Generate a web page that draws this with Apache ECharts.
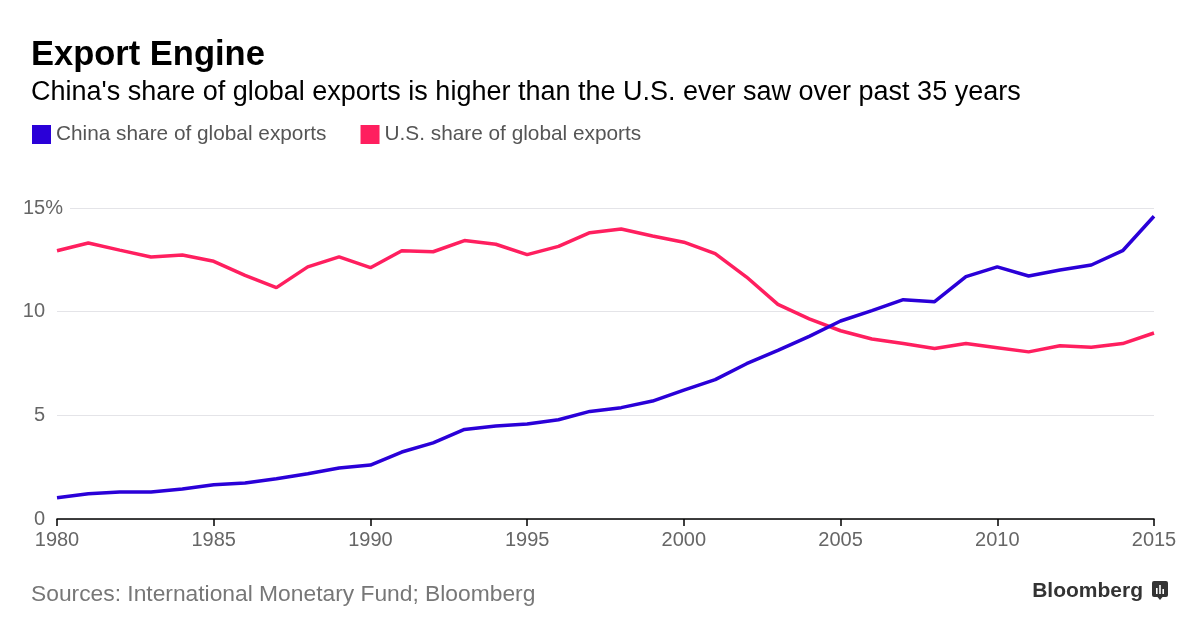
<!DOCTYPE html>
<html>
<head>
<meta charset="utf-8">
<script src="https://cdn.jsdelivr.net/npm/echarts@6/dist/echarts.min.js"></script>
<style>
html,body{margin:0;padding:0;background:#fff;}
#chart{width:1200px;height:635px;}
</style>
</head>
<body>
<div id="chart"></div>
<script>
const years = [1980,1981,1982,1983,1984,1985,1986,1987,1988,1989,1990,1991,1992,1993,1994,1995,1996,1997,1998,1999,2000,2001,2002,2003,2004,2005,2006,2007,2008,2009,2010,2011,2012,2013,2014,2015];
const chinaShare = [1.03,1.22,1.30,1.30,1.45,1.65,1.74,1.94,2.18,2.46,2.60,3.23,3.67,4.32,4.49,4.58,4.79,5.19,5.37,5.69,6.22,6.72,7.49,8.13,8.81,9.55,10.05,10.58,10.48,11.69,12.16,11.72,12.01,12.25,12.94,14.60];
const usShare = [12.94,13.31,12.97,12.64,12.73,12.43,11.75,11.16,12.16,12.64,12.12,12.94,12.89,13.43,13.25,12.75,13.15,13.81,13.99,13.65,13.35,12.80,11.67,10.35,9.65,9.08,8.68,8.46,8.22,8.46,8.26,8.06,8.36,8.28,8.46,8.97];
const seriesNames = ['China share of global exports','U.S. share of global exports'];
const yTicks = [0,5,10,15];
const xTicks = [1980,1985,1990,1995,2000,2005,2010,2015];

const chinaColor = '#2a00d8';
const usColor = '#ff1f5f';
const FONT = '"Liberation Sans", Arial, Helvetica, sans-serif';

const chart = echarts.init(document.getElementById('chart'), null, {renderer:'canvas'});
chart.setOption({
  animation:false,
  backgroundColor:'#fff',
  textStyle:{fontFamily:FONT},
  title:[
    {text:'Export Engine', left:26, top:33, textStyle:{fontFamily:FONT, fontSize:34.5, fontWeight:'bold', color:'#000'}},
    {text:"China's share of global exports is higher than the U.S. ever saw over past 35 years", left:26, top:74, textStyle:{fontFamily:FONT, fontSize:27, fontWeight:'normal', color:'#000'}},
    {text:'Sources: International Monetary Fund; Bloomberg', left:26, top:578, textStyle:{fontFamily:FONT, fontSize:22.8, fontWeight:'normal', color:'#777'}}
  ],
  legend:{
    left:27, top:119, icon:'rect', itemWidth:19, itemHeight:19, itemGap:34,
    textStyle:{fontFamily:FONT, fontSize:20.8, color:'#555'},
    data:seriesNames
  },
  grid:{left:57, right:46, top:208, bottom:116},
  xAxis:{
    type:'value', min:xTicks[0], max:xTicks[xTicks.length-1], interval:5,
    axisLine:{show:true, lineStyle:{color:'#000', width:1.5}},
    axisTick:{show:true, length:7, lineStyle:{color:'#000', width:1.5}},
    axisLabel:{fontFamily:FONT, fontSize:20, color:'#666', margin:11, formatter:v=>String(v)},
    splitLine:{show:false}
  },
  yAxis:{
    type:'value', min:yTicks[0], max:yTicks[yTicks.length-1], interval:5,
    axisLine:{show:false}, axisTick:{show:false},
    splitLine:{lineStyle:{color:'#e4e4e8', width:1.2}},
    axisLabel:{
      margin:-13, fontFamily:FONT, fontSize:20, color:'#666',
      formatter:function(v){ return v===15 ? '{p|15%}' : '{a|'+v+'}{s|}'; },
      rich:{
        p:{fontFamily:FONT, fontSize:20, color:'#666', backgroundColor:'#fff', padding:[3,7,3,0]},
        a:{fontFamily:FONT, fontSize:20, color:'#666'},
        s:{width:25}
      }
    }
  },
  series:[
    {name:seriesNames[0], type:'line', showSymbol:false, symbol:'none', data:years.map((y,i)=>[y,chinaShare[i]]), lineStyle:{color:chinaColor, width:3.5}, itemStyle:{color:chinaColor}, z:3},
    {name:seriesNames[1], type:'line', showSymbol:false, symbol:'none', data:years.map((y,i)=>[y,usShare[i]]), lineStyle:{color:usColor, width:3.5}, itemStyle:{color:usColor}, z:2}
  ],
  graphic:[
    {type:'text', right:57, top:581, style:{text:'Bloomberg', font:'bold 21px '+FONT, fill:'#333'}},
    {type:'group', left:1152, top:581, children:[
      {type:'rect', shape:{x:0,y:0,width:16,height:16,r:2}, style:{fill:'#333'}},
      {type:'polygon', shape:{points:[[5,15.5],[11,15.5],[8,19]]}, style:{fill:'#333'}},
      {type:'rect', shape:{x:4,y:7,width:1.6,height:6}, style:{fill:'#fff'}},
      {type:'rect', shape:{x:7.2,y:4,width:1.6,height:9}, style:{fill:'#fff'}},
      {type:'rect', shape:{x:10.4,y:8,width:1.6,height:5}, style:{fill:'#fff'}}
    ]}
  ]
});
</script>
</body>
</html>
